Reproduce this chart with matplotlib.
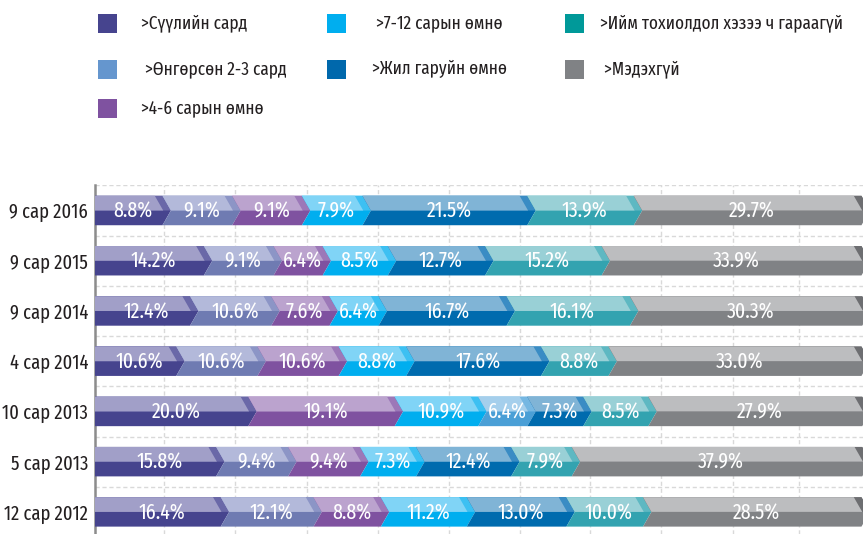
import os
import matplotlib
matplotlib.use("Agg")
import matplotlib.pyplot as plt
from matplotlib import font_manager
from matplotlib.patches import Polygon, Rectangle

# condensed face if one is around, DejaVu otherwise
families = ['DejaVu Sans']
files = font_manager.findSystemFonts()
for key in ["FiraSansExtraCondensed-Regular", "RobotoCondensed-Regular",
            "FiraSansCondensed-Regular", "IBMPlexSansCondensed-Regular"]:
    hits = [f for f in files if os.path.basename(f).startswith(key)]
    if hits:
        font_manager.fontManager.addfont(hits[0])
        families = [font_manager.FontProperties(fname=hits[0]).get_name(), 'DejaVu Sans']
        break
plt.rcParams['font.family'] = families

rows = ["9 сар 2016", "9 сар 2015", "9 сар 2014", "4 сар 2014",
        "10 сар 2013", "5 сар 2013", "12 сар 2012"]

names = [">Сүүлийн сард", " >Өнгөрсөн 2-3 сард", ">4-6 сарын өмнө",
         " >7-12 сарын өмнө", ">Жил гаруйн өмнө",
         ">Ийм тохиолдол хэзээ ч гараагүй", " >Мэдэхгүй"]

last_month = [8.8, 14.2, 12.4, 10.6, 20.0, 15.8, 16.4]
months_2_3 = [9.1, 9.1, 10.6, 10.6, 0, 9.4, 12.1]
months_4_6 = [9.1, 6.4, 7.6, 10.6, 19.1, 9.4, 8.8]
months_7_12 = [7.9, 8.5, 6.4, 8.8, 10.9, 7.3, 11.2]
extra = [0, 0, 0, 0, 6.4, 0, 0]   # segment without legend entry
over_year = [21.5, 12.7, 16.7, 17.6, 7.3, 12.4, 13.0]
never = [13.9, 15.2, 16.1, 8.8, 8.5, 7.9, 10.0]
dont_know = [29.7, 33.9, 30.3, 33.0, 27.9, 37.9, 28.5]

series = [last_month, months_2_3, months_4_6, months_7_12, extra,
          over_year, never, dont_know]
# (lower, upper, stripe)
shades = [("#46448E", "#A19FC8", "#6A68A8"),
          ("#6F7BB2", "#B3B9DA", "#8C95C6"),
          ("#7F52A0", "#BBA3CE", "#9C78B8"),
          ("#00AEEF", "#80D4F6", "#3DC0F2"),
          ("#4A9FD6", "#A5CFEC", "#75B7E2"),
          ("#006BAE", "#80B4D6", "#3A8CC4"),
          ("#33A3B0", "#99D0D6", "#5EB8C2"),
          ("#808285", "#BCBDBF", "#6D6E71")]
legend_colors = ["#46448E", "#6596CE", "#7F52A0", "#00AEEF",
                 "#0068AC", "#009999", "#808285"]

fig = plt.figure(figsize=(8.63, 5.34), dpi=100)
ax = fig.add_axes([95 / 863, 0, 768 / 863, (534 - 185.4) / 534])

d = 1.1    # chevron depth
w = 1.0    # stripe width
h = 0.293  # half bar height

for i, row in enumerate(rows):
    left = 0
    for s, vals in enumerate(series):
        v = vals[i]
        if v == 0:
            continue
        lo, up, st = shades[s]
        x0, x1 = left, left + v
        n = d if left > 0 else 0
        top, mid, bot = i - h, i, i + h
        ax.add_patch(Polygon([(x0, top), (x1, top), (x1 + d, mid), (x1, bot),
                              (x0, bot), (x0 + n, mid)], closed=True,
                             fc=lo, ec="none", zorder=3))
        ax.add_patch(Polygon([(x0, top), (x1, top), (x1 + d, mid), (x0 + n, mid)],
                             closed=True, fc=st, ec="none", zorder=3))
        ax.add_patch(Polygon([(x0, top), (x1 - w, top), (x1 + d - w, mid), (x0 + n, mid)],
                             closed=True, fc=up, ec="none", zorder=3))
        ax.text((x0 + x1) / 2 + d / 2, i + 0.02, f"{v:.1f}%", color="white",
                fontsize=15.5, ha="center", va="center", zorder=4)
        left = x1

ax.set_xlim(0, 100.2)
ax.set_ylim(6.44, -0.5)
for gx in [9.0, 18.3, 27.6, 36.9, 46.2, 55.4, 64.6, 73.9, 83.2, 91.8]:
    ax.axvline(gx, color="#D9D9D9", lw=1, ls=(0, (3, 2)), zorder=1)
for gy in [-0.5, 0.5, 1.5, 2.5, 3.5, 4.5, 5.5]:
    ax.axhline(gy, color="#D9D9D9", lw=1, ls=(0, (3, 2)), zorder=1)

ax.set_yticks(range(len(rows)))
ax.set_yticklabels(rows, fontsize=14.5, color="#231F20")
ax.set_xticks([])
ax.tick_params(axis="y", length=0, pad=5)
for sp in ["top", "right", "bottom"]:
    ax.spines[sp].set_visible(False)
ax.spines["left"].set_color("#8C8C8C")
ax.spines["left"].set_linewidth(1.8)

# legend in pixel coordinates
lax = fig.add_axes([0, 0, 1, 1], zorder=-1)
lax.set_xlim(0, 863)
lax.set_ylim(534, 0)
lax.axis("off")
spots = [(98, 141, 23), (98, 141, 69), (98, 141, 108),
         (327, 372, 23), (327, 372, 69),
         (565, 600, 23), (565, 600, 69)]
for (sx, tx, ty), name, c in zip(spots, names, legend_colors):
    lax.add_patch(Rectangle((sx, ty - 9.5), 19, 19, fc=c, ec="none"))
    lax.text(tx, ty, name, fontsize=13.5, va="center", ha="left", color="#231F20")

fig.savefig("out.png", dpi=100)
